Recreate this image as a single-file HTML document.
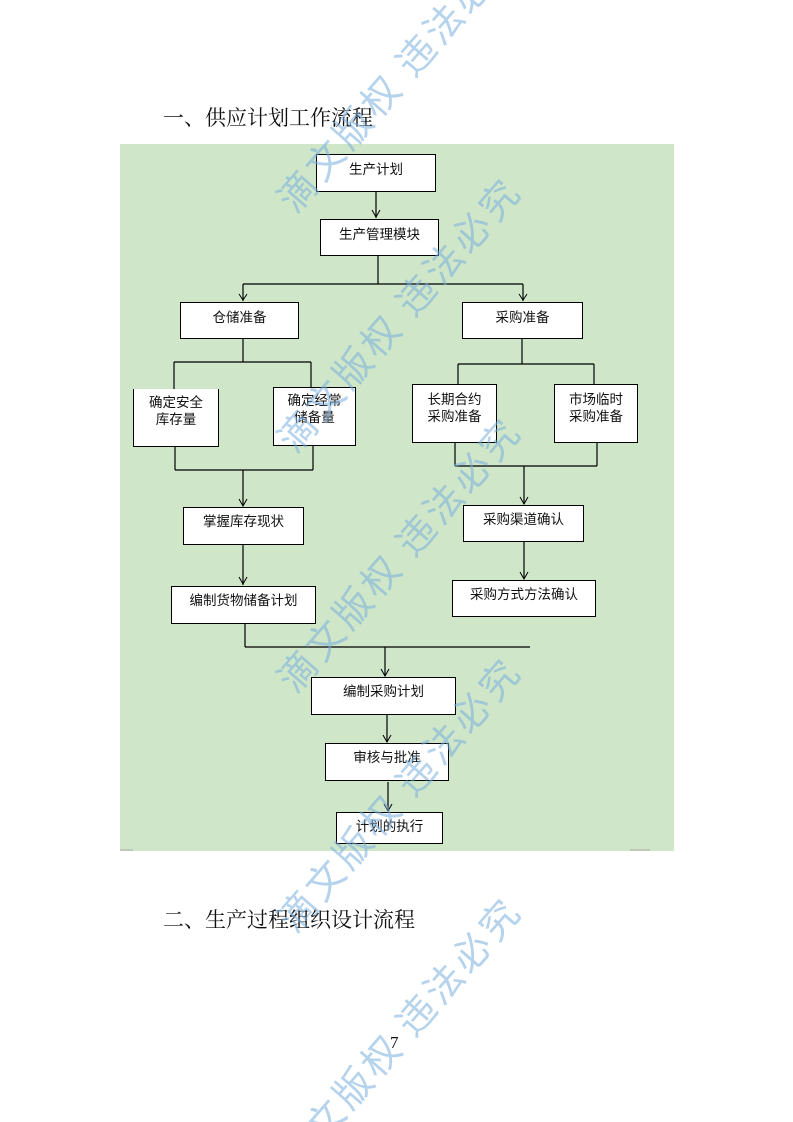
<!DOCTYPE html>
<html style="margin:0;width:793px;height:1122px;overflow:hidden;"><head><meta charset="utf-8">
<style>
body{margin:0;width:793px;height:1122px;background:#fff;position:relative;overflow:hidden;font-family:"Liberation Sans","Noto Sans CJK SC",sans-serif;}
.h{position:absolute;font-family:"Liberation Serif","Noto Serif CJK SC",serif;font-size:21px;color:#111;white-space:nowrap;line-height:24px;}
.bg{position:absolute;left:120px;top:144px;width:554px;height:707px;background:#cfe6c9;}
.b{position:absolute;background:#fff;border:1.3px solid #000;box-sizing:border-box;font-size:13.5px;color:#111;text-align:center;line-height:17px;white-space:nowrap;}
</style></head><body>
<div class="h" style="left:163px;top:106px;">一、供应计划工作流程</div>
<div class="bg"></div>
<svg style="position:absolute;left:0;top:0" width="793" height="1122">
<g stroke="#000" stroke-width="1.2" fill="none">
<line x1="376" y1="192" x2="376" y2="218"/>
<line x1="378" y1="256" x2="378" y2="284"/>
<line x1="243" y1="284" x2="523" y2="284"/>
<line x1="243" y1="284" x2="243" y2="301"/>
<line x1="523" y1="284" x2="523" y2="301"/>
<line x1="243" y1="339" x2="243" y2="362"/>
<line x1="174" y1="362" x2="311" y2="362"/>
<line x1="174" y1="362" x2="174" y2="389"/>
<line x1="311" y1="362" x2="311" y2="387"/>
<line x1="175" y1="447" x2="175" y2="470"/>
<line x1="313" y1="446" x2="313" y2="470"/>
<line x1="175" y1="470" x2="313" y2="470"/>
<line x1="243" y1="470" x2="243" y2="506"/>
<line x1="243" y1="545" x2="243" y2="585"/>
<line x1="245" y1="624" x2="245" y2="647"/>
<line x1="245" y1="647" x2="530" y2="647"/>
<line x1="385" y1="647" x2="385" y2="676"/>
<line x1="387" y1="715" x2="387" y2="742"/>
<line x1="388" y1="782" x2="388" y2="811"/>
<line x1="522" y1="339" x2="522" y2="364"/>
<line x1="458" y1="364" x2="594" y2="364"/>
<line x1="458" y1="364" x2="458" y2="384"/>
<line x1="594" y1="364" x2="594" y2="384"/>
<line x1="455" y1="443" x2="455" y2="466"/>
<line x1="597" y1="443" x2="597" y2="466"/>
<line x1="455" y1="466" x2="597" y2="466"/>
<line x1="524" y1="466" x2="524" y2="504"/>
<line x1="524" y1="542" x2="524" y2="579"/>
</g>
<g stroke="#000" stroke-width="1" fill="none">
<polyline points="372,210 376,217 380,210"/>
<polyline points="239,294 243,300 247,294"/>
<polyline points="519,294 523,300 527,294"/>
<polyline points="239,499 243,506 247,499"/>
<polyline points="239,577 243,584 247,577"/>
<polyline points="381,669 385,676 389,669"/>
<polyline points="383,735 387,742 391,735"/>
<polyline points="384,804 388,811 392,804"/>
<polyline points="520,497 524,504 528,497"/>
<polyline points="520,572 524,579 528,572"/>
</g>
<line x1="120" y1="850" x2="133" y2="850" stroke="#aaa"/>
<line x1="630" y1="850" x2="650" y2="850" stroke="#aaa"/>
</svg>
<div class="b" style="left:316px;top:154px;width:120px;height:38px;padding-top:6px;">生产计划</div>
<div class="b" style="left:320px;top:219px;width:119px;height:37px;padding-top:6px;">生产管理模块</div>
<div class="b" style="left:180px;top:302px;width:119px;height:37px;padding-top:6px;">仓储准备</div>
<div class="b" style="left:462px;top:302px;width:121px;height:37px;padding-top:6px;">采购准备</div>
<div class="b" style="left:133px;top:389px;width:86px;height:58px;padding-top:5px;border-top:none;">确定安全<br>库存量</div>
<div class="b" style="left:273px;top:387px;width:83px;height:59px;padding-top:4px;">确定经常<br>储备量</div>
<div class="b" style="left:412px;top:384px;width:85px;height:59px;padding-top:6px;">长期合约<br>采购准备</div>
<div class="b" style="left:554px;top:384px;width:84px;height:59px;padding-top:6px;">市场临时<br>采购准备</div>
<div class="b" style="left:183px;top:507px;width:121px;height:38px;padding-top:5px;">掌握库存现状</div>
<div class="b" style="left:463px;top:505px;width:121px;height:37px;padding-top:5px;">采购渠道确认</div>
<div class="b" style="left:171px;top:586px;width:145px;height:38px;padding-top:5px;">编制货物储备计划</div>
<div class="b" style="left:452px;top:580px;width:144px;height:37px;padding-top:5px;">采购方式方法确认</div>
<div class="b" style="left:311px;top:677px;width:145px;height:38px;padding-top:5px;">编制采购计划</div>
<div class="b" style="left:325px;top:743px;width:124px;height:38px;padding-top:5px;">审核与批准</div>
<div class="b" style="left:336px;top:812px;width:107px;height:32px;padding-top:5px;">计划的执行</div>
<div class="h" style="left:163px;top:908px;">二、生产过程组织设计流程</div>
<div class="h" style="left:390px;top:1031px;font-size:17px;">7</div>
<svg style="position:absolute;left:0;top:0;overflow:hidden" width="793" height="1122">
<defs><clipPath id="c"><rect x="0" y="0" width="793" height="1122"/></clipPath></defs>
<g clip-path="url(#c)" font-family="Noto Sans CJK SC, sans-serif" font-size="38" fill="rgba(120,175,220,0.55)" text-anchor="middle" letter-spacing="4">
<text transform="translate(400,75) rotate(-49)" y="13">滴文版权 违法必究</text>
<text transform="translate(400,315) rotate(-49)" y="13">滴文版权 违法必究</text>
<text transform="translate(400,555) rotate(-49)" y="13">滴文版权 违法必究</text>
<text transform="translate(400,795) rotate(-49)" y="13">滴文版权 违法必究</text>
<text transform="translate(414,1019) rotate(-49)" y="13">文版权 违法必究</text>
</g>
</svg>
</body></html>
